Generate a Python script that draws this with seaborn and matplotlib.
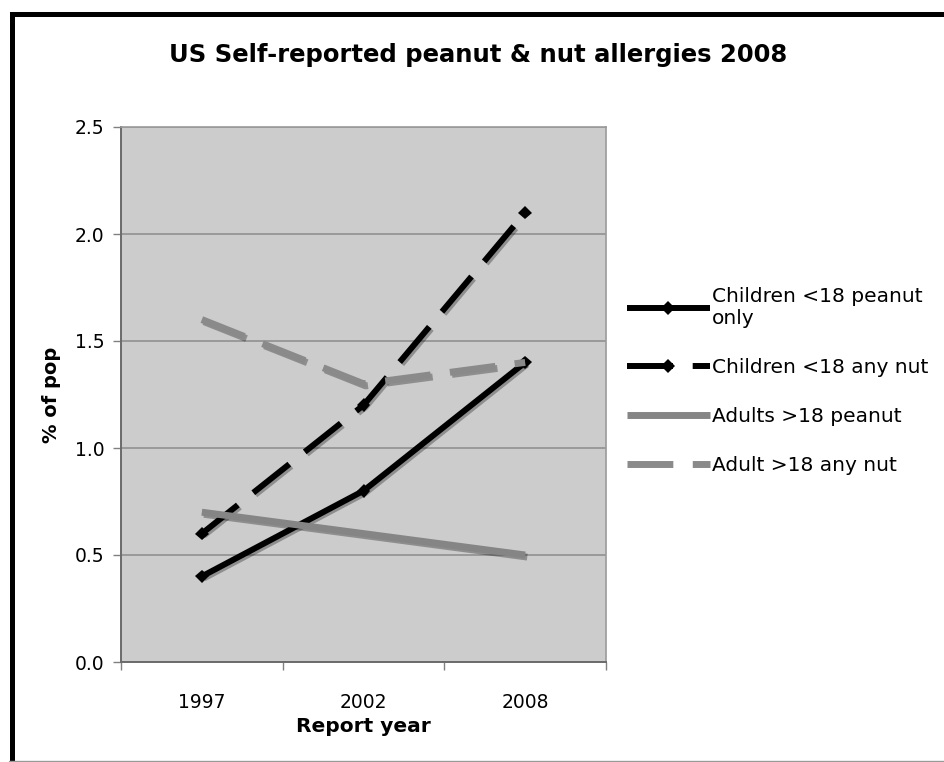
import matplotlib
matplotlib.use("Agg")
import matplotlib.pyplot as plt
import matplotlib.patheffects as pe
from matplotlib.lines import Line2D
from matplotlib.patches import Rectangle
import seaborn as sns

# Survey years and self-reported allergy rates (% of population)
years = ["1997", "2002", "2008"]
children_peanut = [0.4, 0.8, 1.4]
children_any_nut = [0.6, 1.2, 2.1]
adults_peanut = [0.7, 0.6, 0.5]
adults_any_nut = [1.6, 1.3, 1.4]

labels = [
    "Children <18 peanut\nonly",
    "Children <18 any nut",
    "Adults >18 peanut",
    "Adult >18 any nut",
]
y_ticks = [0.0, 0.5, 1.0, 1.5, 2.0, 2.5]

sns.set_theme(style="white")
plt.rcParams["font.family"] = ["DejaVu Sans"]
plt.rcParams["text.color"] = "black"

W, H = 945, 762
fig = plt.figure(figsize=(W / 100, H / 100), dpi=100)
fig.patch.set_facecolor("white")

ax = fig.add_axes([121 / W, 1 - 662 / H, (606 - 121) / W, (662 - 127) / H])
ax.set_facecolor("#cccccc")

shadow = [pe.SimpleLineShadow(offset=(1.5, -1.5), shadow_color="black", alpha=0.3),
          pe.Normal()]
dash = (0, (7.7, 3.3))

series = [
    (children_peanut, "black", 4.3, "-", "D"),
    (children_any_nut, "black", 4.3, dash, "D"),
    (adults_peanut, "#858585", 5.0, "-", None),
    (adults_any_nut, "#8a8a8a", 5.0, (0, (6.6, 2.8)), None),
]

handles = []
for vals, color, lw, ls, mk in series:
    sns.lineplot(x=years, y=vals, ax=ax, color=color, linewidth=lw,
                 marker=mk, markersize=7, markeredgewidth=0,
                 sort=False, legend=False)
    line = ax.lines[-1]
    line.set_linestyle(ls)
    line.set_dash_capstyle("butt")
    line.set_solid_capstyle("butt")
    line.set_path_effects(shadow)
    h = Line2D([], [], color=color, linewidth=lw, linestyle=ls,
               marker=mk, markersize=7, markeredgewidth=0)
    h.set_solid_capstyle("butt")
    h.set_dash_capstyle("butt")
    handles.append(h)

ax.set_xlim(-0.5, 2.5)
ax.set_ylim(0, 2.5)
ax.set_yticks(y_ticks)
ax.set_yticklabels([f"{v:.1f}" for v in y_ticks])
ax.yaxis.grid(True, color="#8c8c8c", linewidth=1.1)
ax.xaxis.grid(False)
ax.set_axisbelow(True)

ax.set_xticks([0, 1, 2])
ax.set_xticklabels(years)
ax.set_xticks([-0.5, 0.5, 1.5, 2.5], minor=True)
ax.tick_params(axis="x", which="major", length=0, pad=22, labelsize=13.5, colors="black")
ax.tick_params(axis="x", which="minor", length=6, width=1, color="#808080", direction="out", bottom=True)
ax.tick_params(axis="y", which="major", length=6, width=1, color="#808080", direction="out",
               left=True, labelsize=13.5, labelcolor="black", pad=6)

for side in ["top", "right"]:
    ax.spines[side].set_color("#9a9a9a")
    ax.spines[side].set_linewidth(1.2)
for side in ["left", "bottom"]:
    ax.spines[side].set_color("#6a6a6a")
    ax.spines[side].set_linewidth(1.4)

ax.set_xlabel("Report year", fontsize=14.5, fontweight="bold", labelpad=4, color="black")
ax.set_ylabel("% of pop", fontsize=14, fontweight="bold", labelpad=10, color="black")

fig.text(478 / W, 1 - 55 / H, "US Self-reported peanut & nut allergies 2008",
         ha="center", va="center", fontsize=17.5, fontweight="bold", color="black")

fig.legend(handles, labels, loc="center left",
           bbox_to_anchor=(619 / W, 1 - 381 / H), frameon=False,
           fontsize=14.5, handlelength=4.1, handletextpad=0.12,
           labelspacing=1.5, numpoints=1, borderaxespad=0,
           labelcolor="black")

# chart frame
fig.add_artist(Rectangle((12 / W, -0.05), 2.0, (1 - 14 / H) + 0.05,
                         transform=fig.transFigure, fill=False,
                         edgecolor="black", linewidth=3.6, clip_on=False))
fig.add_artist(Line2D([0.01, 1], [0.7 / H, 0.7 / H], transform=fig.transFigure,
                      color="#9a9a9a", linewidth=1))

fig.savefig("out.png", dpi=100)
